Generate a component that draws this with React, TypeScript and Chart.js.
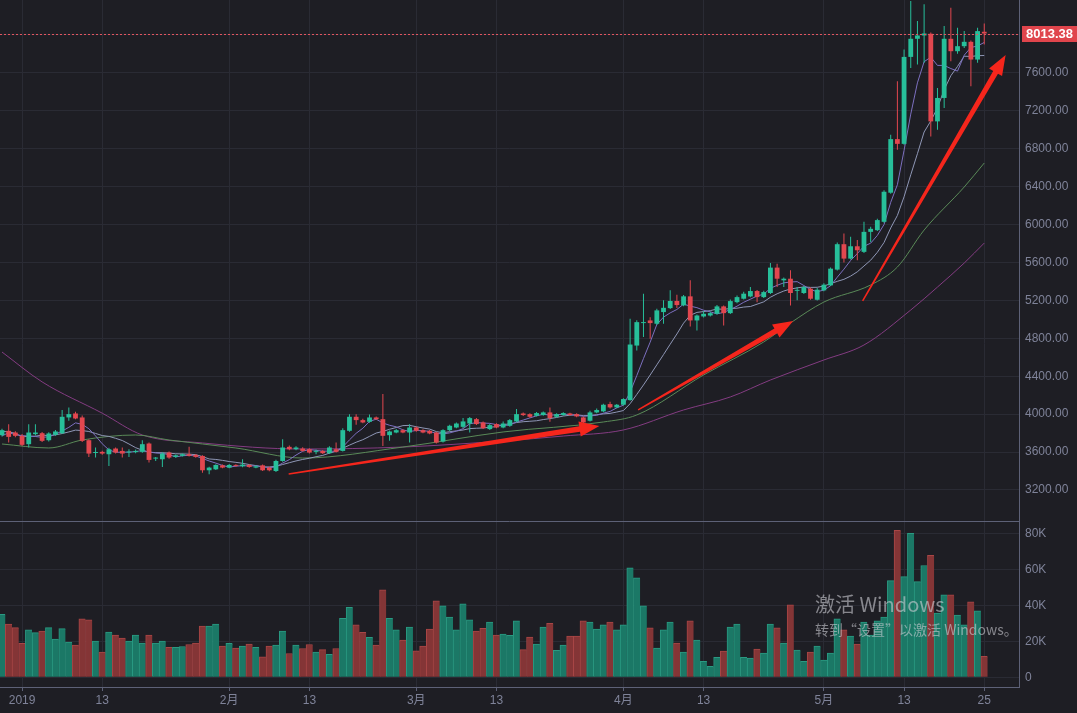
import { useEffect, useRef } from 'react';
import { Chart, registerables } from 'chart.js';

Chart.register(...registerables);

// ---- data (daily candles, first candle = 2018-12-29) ----
const startDate = '2018-12-29';

const opens = [
  3778, 3824, 3806, 3771, 3683, 3789, 3799, 3725, 3782, 3799,
  3965, 4007, 3965, 3725, 3590, 3602, 3577, 3637, 3612, 3595,
  3600, 3602, 3690, 3531, 3524, 3595, 3549, 3560, 3577, 3570,
  3559, 3408, 3418, 3460, 3436, 3464, 3450, 3464, 3436, 3460,
  3436, 3400, 3506, 3655, 3630, 3637, 3630, 3602, 3612, 3588,
  3630, 3612, 3824, 3972, 3937, 3919, 3965, 3947, 3778, 3806,
  3831, 3806, 3859, 3831, 3824, 3806, 3711, 3831, 3859, 3866,
  3901, 3947, 3912, 3842, 3895, 3859, 3877, 3923, 4007, 4000,
  3983, 3990, 4018, 3972, 3990, 4007, 4000, 3965, 3930, 4018,
  4029, 4106, 4071, 4099, 4148, 4723, 4960, 4988, 4953, 5076,
  5118, 5193, 5147, 5242, 4988, 5030, 5040, 5058, 5136, 5065,
  5181, 5217, 5241, 5298, 5234, 5277, 5545, 5411, 5428, 5300,
  5277, 5323, 5206, 5305, 5358, 5524, 5792, 5640, 5770, 5711,
  5922, 5940, 6028, 6335, 6900, 6850, 7767, 7958, 7993, 8011,
  7087, 7334, 7958, 7827, 7880, 7926, 7739, 8032,
];
const highs = [
  3845, 3894, 3820, 3790, 3894, 3894, 3812, 3808, 3832, 4043,
  4071, 4025, 3985, 3735, 3648, 3615, 3645, 3648, 3648, 3630,
  3628, 3725, 3702, 3549, 3598, 3606, 3575, 3585, 3655, 3580,
  3566, 3445, 3472, 3470, 3475, 3472, 3524, 3472, 3462, 3470,
  3445, 3520, 3736, 3668, 3660, 3650, 3640, 3628, 3622, 3660,
  3700, 3850, 4000, 4000, 3950, 3995, 3975, 4212, 3828, 3842,
  3840, 3894, 3870, 3840, 3832, 3815, 3840, 3888, 3912, 3958,
  3970, 3958, 3922, 3895, 3905, 3923, 3948, 4053, 4018, 4010,
  4022, 4028, 4071, 4010, 4020, 4015, 4008, 3975, 4035, 4060,
  4110, 4130, 4108, 4168, 5006, 4990, 5270, 5022, 5110, 5200,
  5305, 5260, 5255, 5411, 5050, 5085, 5080, 5150, 5146, 5210,
  5250, 5290, 5340, 5310, 5300, 5594, 5587, 5440, 5516, 5340,
  5352, 5335, 5330, 5380, 5545, 5810, 5905, 5870, 5835, 6028,
  5975, 6060, 6360, 6946, 7510, 7845, 8356, 8145, 8321, 8025,
  7440, 8092, 8286, 8074, 8039, 7940, 8074, 8120,
];
const lows = [
  3765, 3700, 3755, 3665, 3648, 3775, 3705, 3712, 3772, 3790,
  3930, 3945, 3705, 3549, 3542, 3572, 3454, 3585, 3542, 3549,
  3588, 3592, 3489, 3507, 3443, 3530, 3540, 3552, 3552, 3540,
  3383, 3365, 3410, 3428, 3428, 3446, 3440, 3435, 3428, 3400,
  3398, 3390, 3498, 3620, 3620, 3605, 3585, 3578, 3580, 3580,
  3595, 3605, 3815, 3888, 3905, 3910, 3938, 3665, 3718, 3798,
  3798, 3700, 3815, 3798, 3788, 3690, 3702, 3822, 3850, 3855,
  3806, 3885, 3842, 3832, 3850, 3850, 3868, 3915, 3980, 3962,
  3975, 3982, 3920, 3962, 3982, 3982, 3968, 3900, 3922, 4010,
  4020, 4060, 4062, 4090, 4140, 4670, 4812, 4794, 4940, 4952,
  5108, 5120, 5138, 4924, 4882, 5018, 5030, 5050, 4935, 5055,
  5170, 5208, 5232, 5180, 5225, 5268, 5340, 5340, 5146, 5200,
  5268, 5205, 5198, 5296, 5350, 5515, 5600, 5630, 5622, 5700,
  5815, 5930, 6018, 6325, 6787, 6840, 7651, 7686, 7704, 6928,
  7000, 7228, 7721, 7800, 7860, 7457, 7704, 7898,
];
const closes = [
  3831, 3760, 3771, 3676, 3806, 3806, 3718, 3796, 3817, 3972,
  4000, 3954, 3718, 3584, 3597, 3584, 3630, 3595, 3584, 3605,
  3612, 3683, 3517, 3535, 3584, 3542, 3566, 3577, 3560, 3549,
  3408, 3436, 3464, 3436, 3464, 3454, 3468, 3443, 3450, 3408,
  3408, 3506, 3648, 3630, 3648, 3612, 3595, 3605, 3588, 3648,
  3602, 3831, 3972, 3937, 3912, 3965, 3947, 3771, 3817, 3831,
  3806, 3859, 3824, 3806, 3796, 3700, 3831, 3877, 3901, 3923,
  3958, 3895, 3852, 3884, 3859, 3901, 3937, 4000, 3990, 3972,
  4011, 4018, 3958, 4000, 4011, 3990, 3976, 3912, 4018, 4043,
  4099, 4071, 4099, 4159, 4734, 4970, 4970, 4960, 5094, 5121,
  5193, 5150, 5242, 4988, 5040, 5058, 5065, 5136, 5065, 5192,
  5234, 5270, 5298, 5234, 5287, 5545, 5428, 5428, 5277, 5308,
  5340, 5217, 5312, 5365, 5534, 5792, 5640, 5770, 5728, 5922,
  5954, 6046, 6345, 6900, 6850, 7767, 7958, 7993, 8014, 7087,
  7334, 7958, 7827, 7880, 7926, 7739, 8039, 8013.38,
];
const volumesK = [
  35.0, 29.6, 27.6, 18.8, 26.3, 24.8, 25.7, 27.6, 21.2, 27.0,
  19.5, 17.9, 32.4, 31.9, 20.1, 14.0, 25.1, 23.5, 21.8, 20.1,
  23.5, 19.0, 23.5, 19.0, 20.1, 16.7, 16.7, 17.1, 18.2, 19.0,
  28.5, 28.5, 29.6, 17.3, 18.8, 16.2, 17.3, 18.4, 16.7, 11.3,
  17.3, 17.9, 25.7, 13.2, 17.9, 16.0, 18.2, 14.0, 15.4, 12.8,
  16.0, 32.8, 38.9, 29.1, 25.0, 22.2, 17.9, 48.6, 32.8, 26.3,
  20.7, 27.9, 14.7, 17.3, 26.8, 42.5, 39.7, 33.5, 26.3, 40.8,
  31.9, 25.7, 27.2, 30.7, 23.5, 24.0, 23.3, 31.3, 15.4, 22.3,
  18.4, 27.9, 30.0, 14.9, 17.9, 22.9, 22.9, 31.3, 30.7, 26.8,
  29.1, 30.7, 26.3, 29.1, 60.8, 55.2, 39.7, 27.4, 16.2, 26.3,
  30.7, 19.0, 14.0, 31.3, 20.7, 8.9, 6.1, 11.1, 14.5, 27.9,
  29.6, 11.1, 10.6, 15.6, 13.4, 29.6, 27.4, 19.0, 40.2, 15.1,
  8.9, 14.0, 17.3, 9.5, 13.4, 32.4, 26.3, 22.9, 18.4, 30.7,
  23.5, 31.3, 33.5, 53.7, 81.6, 55.9, 80.0, 53.1, 62.1, 67.7,
  35.6, 45.8, 45.8, 34.6, 29.1, 41.9, 36.9, 11.7,
];
// closes of the 9 days before the first visible candle (for MA5 / MA10)
const priorCloses = [3790, 3950, 4030, 3760, 3790, 3590, 3870, 3730, 3830];

// MA30 / MA60 (day offset, value)
const ma30Days = [0, 7, 12, 20, 25, 35, 45, 60, 75, 90, 95, 105, 114, 118, 123, 130, 134, 138, 144, 147];
const ma30Values = [3685, 3643, 3727, 3780, 3727, 3643, 3537, 3653, 3812, 3917, 3991, 4413, 4761, 4961, 5182, 5362, 5551, 5941, 6395, 6648];
const ma60Days = [0, 6, 15, 21, 30, 45, 60, 75, 84, 93, 102, 109, 115, 123, 129, 136, 140, 144, 147];
const ma60Values = [4655, 4340, 4010, 3780, 3696, 3632, 3653, 3717, 3769, 3833, 4044, 4181, 4360, 4571, 4729, 5098, 5340, 5593, 5804];

const xTickDates = ['2019-01-01', '2019-01-13', '2019-02-01', '2019-02-13', '2019-03-01', '2019-03-13', '2019-04-01', '2019-04-13', '2019-05-01', '2019-05-13', '2019-05-25'];
const xTickLabels = ['2019', '13', '2月', '13', '3月', '13', '4月', '13', '5月', '13', '25'];
const priceTicks = [3200, 3600, 4000, 4400, 4800, 5200, 5600, 6000, 6400, 6800, 7200, 7600, 8000, 8400];
const volumeTicks = [0, 20000, 40000, 60000, 80000];
const lastPrice = 8013.38;

// annotation arrows: [day offset, price]
const arrowTails = [[42.9, 3369], [95.2, 4044], [128.8, 5193]];
const arrowTips = [[89.4, 3875], [118.4, 4982], [150.2, 7787]];

// ---- style ----
const BG = '#1e1e24';
const GRID = '#2a2b34';
const AXIS = '#5d6177';
const TEXT = '#7f8399';
const UP = '#27bf9a';
const DOWN = '#e2474f';
const VOL_UP = '#1b7866';
const VOL_UP_EDGE = '#2a9a82';
const VOL_DOWN = '#843536';
const VOL_DOWN_EDGE = '#a84646';
const FONT = "'Liberation Sans', Arial, 'Noto Sans CJK SC', sans-serif";

const dayIndex = (d: string) =>
  Math.round((Date.parse(d + 'T00:00:00Z') - Date.parse(startDate + 'T00:00:00Z')) / 86400000);

function movingAverage(n: number) {
  const all = [...priorCloses, ...closes];
  const off = priorCloses.length;
  return closes.map((_, i) => {
    let s = 0;
    for (let k = 0; k < n; k++) s += all[off + i - k];
    return { x: i, y: s / n };
  });
}

const overlayPlugin = {
  id: 'overlay',
  afterDatasetsDraw(chart: any) {
    const { ctx, chartArea, scales } = chart;
    const xs = scales.x;
    const ys = scales.y;
    ctx.save();
    ctx.beginPath();
    ctx.rect(chartArea.left, ys.top, chartArea.right - chartArea.left, ys.bottom - ys.top);
    ctx.clip();
    // last price dotted line
    const py = Math.round(ys.getPixelForValue(lastPrice)) + 0.5;
    ctx.strokeStyle = '#e25560';
    ctx.lineWidth = 1;
    ctx.setLineDash([2, 2]);
    ctx.beginPath();
    ctx.moveTo(chartArea.left, py);
    ctx.lineTo(chartArea.right, py);
    ctx.stroke();
    ctx.setLineDash([]);
    // arrows
    ctx.fillStyle = '#f5261c';
    arrowTails.forEach((t, k) => {
      const tip = arrowTips[k];
      const tx = xs.getPixelForValue(t[0]);
      const ty = ys.getPixelForValue(t[1]);
      const px = xs.getPixelForValue(tip[0]);
      const pyy = ys.getPixelForValue(tip[1]);
      const dx = px - tx;
      const dy = pyy - ty;
      const len = Math.hypot(dx, dy);
      const ux = dx / len;
      const uy = dy / len;
      const nx = -uy;
      const ny = ux;
      const hl = 20;
      const hw = 15;
      const w0 = 1.5;
      const w1 = 5.5;
      const bx = px - ux * hl;
      const by = pyy - uy * hl;
      ctx.beginPath();
      ctx.moveTo(tx + nx * w0 / 2, ty + ny * w0 / 2);
      ctx.lineTo(bx + nx * w1 / 2, by + ny * w1 / 2);
      ctx.lineTo(bx + nx * hw / 2, by + ny * hw / 2);
      ctx.lineTo(px, pyy);
      ctx.lineTo(bx - nx * hw / 2, by - ny * hw / 2);
      ctx.lineTo(bx - nx * w1 / 2, by - ny * w1 / 2);
      ctx.lineTo(tx - nx * w0 / 2, ty - ny * w0 / 2);
      ctx.closePath();
      ctx.fill();
    });
    ctx.restore();
  },
  afterDraw(chart: any) {
    const { ctx, chartArea, scales } = chart;
    const ys = scales.y;
    ctx.save();
    // pane separator
    const sy = Math.round(ys.bottom) + 0.5;
    ctx.strokeStyle = AXIS;
    ctx.lineWidth = 1;
    ctx.beginPath();
    ctx.moveTo(chartArea.left, sy);
    ctx.lineTo(chartArea.right, sy);
    ctx.stroke();
    // top price label, partly cut by the canvas edge
    const topTick = priceTicks[priceTicks.length - 1];
    ctx.fillStyle = TEXT;
    ctx.font = `12px ${FONT}`;
    ctx.textBaseline = 'middle';
    ctx.textAlign = 'left';
    ctx.fillText(topTick.toFixed(2), chartArea.right + 6, ys.getPixelForValue(topTick));
    // last price badge
    const py = ys.getPixelForValue(lastPrice);
    ctx.fillStyle = '#e0454c';
    ctx.fillRect(chartArea.right + 3, Math.round(py) - 8, 60, 16);
    ctx.fillStyle = '#ffffff';
    ctx.font = `bold 13px ${FONT}`;
    ctx.fillText(lastPrice.toFixed(2), chartArea.right + 7, Math.round(py) + 0.5);
    ctx.restore();
  },
};

export default function App() {
  const ref = useRef<HTMLCanvasElement | null>(null);

  useEffect(() => {
    const canvas = ref.current;
    if (!canvas) return;
    const isUp = closes.map((c, i) => c >= opens[i]);
    const candleColors = isUp.map((u) => (u ? UP : DOWN));
    const tickIdx = xTickDates.map(dayIndex);

    const chart = new Chart(canvas, {
      type: 'bar',
      data: {
        datasets: [
          {
            type: 'bar',
            label: 'body',
            data: closes.map((c, i) => ({ x: i, y: [opens[i], c] })) as any,
            backgroundColor: candleColors,
            grouped: false,
            maxBarThickness: 5,
            minBarLength: 1,
            yAxisID: 'y',
            order: 0,
          } as any,
          {
            type: 'bar',
            label: 'wick',
            data: highs.map((h, i) => ({ x: i, y: [lows[i], h] })) as any,
            backgroundColor: candleColors,
            grouped: false,
            maxBarThickness: 1,
            yAxisID: 'y',
            order: 1,
          } as any,
          {
            type: 'line',
            label: 'MA5',
            data: movingAverage(5) as any,
            borderColor: '#7d70c0',
            borderWidth: 1,
            pointRadius: 0,
            yAxisID: 'y',
            order: 2,
          },
          {
            type: 'line',
            label: 'MA10',
            data: movingAverage(10) as any,
            borderColor: '#8f97b6',
            borderWidth: 1,
            pointRadius: 0,
            yAxisID: 'y',
            order: 3,
          },
          {
            type: 'line',
            label: 'MA30',
            data: ma30Days.map((d, k) => ({ x: d, y: ma30Values[k] })) as any,
            borderColor: '#5a8a58',
            borderWidth: 1,
            pointRadius: 0,
            cubicInterpolationMode: 'monotone',
            yAxisID: 'y',
            order: 4,
          },
          {
            type: 'line',
            label: 'MA60',
            data: ma60Days.map((d, k) => ({ x: d, y: ma60Values[k] })) as any,
            borderColor: '#843c82',
            borderWidth: 1,
            pointRadius: 0,
            cubicInterpolationMode: 'monotone',
            yAxisID: 'y',
            order: 5,
          },
          {
            type: 'bar',
            label: 'volume',
            data: volumesK.map((v, i) => ({ x: i, y: v * 1000 })) as any,
            backgroundColor: isUp.map((u) => (u ? VOL_UP : VOL_DOWN)),
            borderColor: isUp.map((u) => (u ? VOL_UP_EDGE : VOL_DOWN_EDGE)),
            borderWidth: { top: 1, left: 1, right: 0, bottom: 0 },
            grouped: false,
            barPercentage: 1,
            categoryPercentage: 1,
            yAxisID: 'yv',
            order: 6,
          } as any,
        ],
      },
      options: {
        animation: false,
        responsive: false,
        maintainAspectRatio: false,
        devicePixelRatio: 1,
        events: [],
        layout: { padding: 0 },
        plugins: { legend: { display: false }, tooltip: { enabled: false } },
        scales: {
          x: {
            type: 'linear',
            position: 'bottom',
            min: -0.3,
            max: 152.2,
            offset: false,
            grid: { color: GRID, offset: false, drawTicks: true, tickLength: 4, tickColor: AXIS } as any,
            border: { color: AXIS },
            afterBuildTicks: (axis: any) => {
              axis.ticks = tickIdx.map((v) => ({ value: v }));
            },
            afterFit: (axis: any) => {
              axis.height = 26;
              axis.paddingLeft = 0;
              axis.paddingRight = 0;
            },
            ticks: {
              autoSkip: false,
              maxRotation: 0,
              padding: 2,
              color: TEXT,
              font: { family: FONT, size: 12 },
              callback: (v: any) => {
                const k = tickIdx.indexOf(Number(v));
                return k >= 0 ? xTickLabels[k] : '';
              },
            },
          },
          y: {
            type: 'linear',
            position: 'right',
            stack: 'panes',
            stackWeight: 521,
            min: 2873,
            max: 8367,
            grid: { color: GRID, drawTicks: false },
            border: { color: AXIS },
            afterBuildTicks: (axis: any) => {
              axis.ticks = priceTicks.filter((v) => v <= 8367).map((v) => ({ value: v }));
            },
            afterFit: (axis: any) => {
              axis.width = 58;
              axis.paddingTop = 0;
              axis.paddingBottom = 0;
            },
            ticks: {
              autoSkip: false,
              padding: 6,
              color: TEXT,
              font: { family: FONT, size: 12 },
              callback: (v: any) => Number(v).toFixed(2),
            },
          },
          yv: {
            type: 'linear',
            position: 'right',
            stack: 'panes',
            stackWeight: 166,
            min: -5400,
            max: 86800,
            grid: { color: GRID, drawTicks: false },
            border: { color: AXIS },
            afterBuildTicks: (axis: any) => {
              axis.ticks = volumeTicks.map((v) => ({ value: v }));
            },
            afterFit: (axis: any) => {
              axis.width = 58;
              axis.paddingTop = 0;
              axis.paddingBottom = 0;
            },
            ticks: {
              autoSkip: false,
              padding: 6,
              color: TEXT,
              font: { family: FONT, size: 12 },
              callback: (v: any) => (Number(v) === 0 ? '0' : Number(v) / 1000 + 'K'),
            },
          },
        },
      } as any,
      plugins: [overlayPlugin],
    });
    return () => chart.destroy();
  }, []);

  return (
    <div
      style={{
        position: 'fixed',
        left: 0,
        top: 0,
        width: 1077,
        height: 713,
        background: BG,
        overflow: 'hidden',
      }}
    >
      <canvas ref={ref} width={1077} height={713} style={{ display: 'block', width: 1077, height: 713 }} />
      <div
        style={{
          position: 'absolute',
          left: 815,
          top: 592,
          fontFamily: "'Noto Sans CJK SC', 'Noto Sans', sans-serif",
          fontSize: 20,
          lineHeight: '24px',
          color: 'rgba(205,205,212,0.6)',
          whiteSpace: 'nowrap',
        }}
      >
        激活 Windows
      </div>
      <div
        style={{
          position: 'absolute',
          left: 815,
          top: 619,
          fontFamily: "'Noto Sans CJK SC', 'Noto Sans', sans-serif",
          fontSize: 14,
          lineHeight: '20px',
          color: 'rgba(205,205,212,0.6)',
          whiteSpace: 'nowrap',
        }}
      >
        转到“设置”以激活 Windows。
      </div>
    </div>
  );
}
